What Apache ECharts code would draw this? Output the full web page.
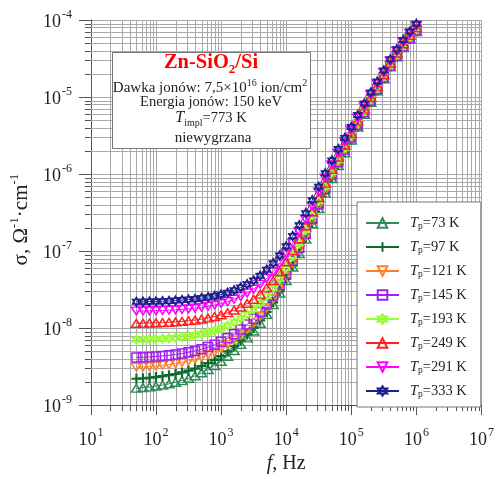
<!DOCTYPE html>
<html><head><meta charset="utf-8">
<script src="https://cdn.jsdelivr.net/npm/echarts@6/dist/echarts.min.js"></script>
<style>html,body{margin:0;padding:0;background:#fff}#c{width:497px;height:479px}</style>
</head><body><div id="c"></div>
<script>
// frequency (Hz)
const freqHz = [50,63.1,79.4,100,125.9,158.5,199.5,251.2,316.2,398.1,501.2,631,794.3,1000,
 1259,1585,1995,2512,3162,3981,5012,6310,7943,10000,
 12589,15849,19953,25119,31623,39811,50119,63096,79433,100000,
 125893,158489,199526,251189,316228,398107,501187,630957,794328,1000000];
// log10 of conductivity sigma (Ohm^-1 cm^-1)
const logSigma73 = [-8.781,-8.774,-8.765,-8.754,-8.741,-8.724,-8.704,-8.681,-8.653,-8.620,-8.582,-8.538,-8.489,-8.433,
 -8.366,-8.293,-8.213,-8.129,-8.040,-7.938,-7.823,-7.695,-7.546,-7.384,
 -7.209,-7.033,-6.845,-6.647,-6.448,-6.249,-6.060,-5.890,-5.725,-5.560,
 -5.390,-5.225,-5.070,-4.920,-4.765,-4.610,-4.480,-4.360,-4.250,-4.150];
const logSigma97 = [-8.658,-8.652,-8.645,-8.636,-8.625,-8.612,-8.596,-8.576,-8.553,-8.526,-8.493,-8.456,-8.412,-8.363,
 -8.303,-8.236,-8.162,-8.083,-7.998,-7.900,-7.790,-7.666,-7.520,-7.361,
 -7.189,-7.014,-6.828,-6.632,-6.434,-6.236,-6.048,-5.879,-5.715,-5.551,
 -5.382,-5.218,-5.063,-4.914,-4.759,-4.605,-4.475,-4.355,-4.245,-4.145];
const logSigma121 = [-8.508,-8.504,-8.498,-8.491,-8.483,-8.473,-8.460,-8.445,-8.426,-8.403,-8.377,-8.345,-8.309,-8.267,
 -8.214,-8.154,-8.088,-8.015,-7.936,-7.844,-7.738,-7.620,-7.478,-7.324,
 -7.156,-6.985,-6.802,-6.607,-6.412,-6.216,-6.029,-5.862,-5.700,-5.538,
 -5.370,-5.207,-5.053,-4.904,-4.751,-4.597,-4.467,-4.347,-4.237,-4.137];
const logSigma145 = [-8.381,-8.378,-8.374,-8.368,-8.361,-8.353,-8.343,-8.330,-8.315,-8.296,-8.274,-8.247,-8.216,-8.179,
 -8.133,-8.079,-8.019,-7.952,-7.879,-7.792,-7.691,-7.577,-7.441,-7.291,
 -7.126,-6.958,-6.778,-6.585,-6.392,-6.197,-6.012,-5.847,-5.686,-5.525,
 -5.359,-5.197,-5.044,-4.896,-4.743,-4.590,-4.460,-4.340,-4.230,-4.130];
const logSigma193 = [-8.151,-8.149,-8.146,-8.142,-8.137,-8.131,-8.124,-8.115,-8.105,-8.091,-8.075,-8.055,-8.032,-8.004,
 -7.967,-7.925,-7.874,-7.819,-7.756,-7.679,-7.588,-7.484,-7.359,-7.218,
 -7.061,-6.900,-6.726,-6.538,-6.349,-6.158,-5.977,-5.815,-5.658,-5.500,
 -5.336,-5.176,-5.024,-4.878,-4.727,-4.575,-4.445,-4.325,-4.215,-4.115];
const logSigma249 = [-7.939,-7.937,-7.935,-7.932,-7.929,-7.925,-7.920,-7.913,-7.905,-7.896,-7.884,-7.869,-7.851,-7.829,
 -7.801,-7.767,-7.727,-7.680,-7.626,-7.560,-7.479,-7.385,-7.271,-7.141,
 -6.994,-6.840,-6.672,-6.490,-6.305,-6.119,-5.941,-5.782,-5.628,-5.474,
 -5.312,-5.155,-5.005,-4.860,-4.710,-4.560,-4.430,-4.310,-4.200,-4.100];
const logSigma291 = [-7.779,-7.778,-7.776,-7.774,-7.771,-7.767,-7.763,-7.757,-7.750,-7.741,-7.730,-7.717,-7.701,-7.681,
 -7.656,-7.625,-7.588,-7.544,-7.494,-7.431,-7.354,-7.267,-7.160,-7.037,
 -6.898,-6.750,-6.589,-6.414,-6.235,-6.054,-5.882,-5.729,-5.580,-5.431,
 -5.274,-5.120,-4.972,-4.830,-4.682,-4.535,-4.405,-4.285,-4.175,-4.075];
const logSigma333 = [-7.659,-7.658,-7.656,-7.654,-7.651,-7.647,-7.643,-7.637,-7.630,-7.622,-7.611,-7.599,-7.583,-7.565,
 -7.540,-7.509,-7.473,-7.431,-7.381,-7.320,-7.243,-7.158,-7.057,-6.939,
 -6.806,-6.664,-6.508,-6.339,-6.166,-5.991,-5.824,-5.676,-5.532,-5.388,
 -5.235,-5.085,-4.940,-4.800,-4.655,-4.510,-4.380,-4.260,-4.150,-4.050];

const seriesNames = ['73 K','97 K','121 K','145 K','193 K','249 K','291 K','333 K'];
const seriesLogs = [logSigma73,logSigma97,logSigma121,logSigma145,logSigma193,logSigma249,logSigma291,logSigma333];
const xTickExps = [1,2,3,4,5,6,7];
const yTickExps = [-9,-8,-7,-6,-5,-4];

const colors = ['#2e8b57','#0b6b2b','#ff7f27','#a020f0','#99ff33','#ff2020','#ff00ff','#202090'];
const TRI_UP = 'path://M5,0 L10,8.66 L0,8.66 Z';
const TRI_DN = 'path://M0,0 L10,0 L5,8.66 Z';
const PLUS = 'path://M5,0 L5,10 M0,5 L10,5';
const SQUARE = 'path://M0,0 L10,0 L10,10 L0,10 Z';
const HEXA = 'path://M5,0 L9.33,7.5 L0.67,7.5 Z M5,10 L0.67,2.5 L9.33,2.5 Z';
const symbols = [TRI_UP, PLUS, TRI_DN, SQUARE, HEXA, TRI_UP, TRI_DN, HEXA];
const symSizes = [[10,9],[10,10],[10,9],[9,9],[9,9],[10,9],[10,9],[9,9]];
const symBorder = [1.5, 2.2, 1.5, 1.5, 1.5, 1.5, 1.5, 1.5];
const FONT = 'Liberation Serif';

const xMin = Math.pow(10, xTickExps[0]), xMax = Math.pow(10, xTickExps[xTickExps.length-1]);
const yMin = Math.pow(10, yTickExps[0]), yMax = Math.pow(10, yTickExps[yTickExps.length-1]);

// minor grid positions (2..9 per decade)
const minorX = [], minorY = [];
for (let e = xTickExps[0]; e < xTickExps[xTickExps.length-1]; e++) for (let m = 2; m <= 9; m++) minorX.push([m*Math.pow(10,e), yMin]);
for (let e = yTickExps[0]; e < yTickExps[yTickExps.length-1]; e++) for (let m = 2; m <= 9; m++) minorY.push([xMin, m*Math.pow(10,e)]);

const GRID = '#a8a8a8', AXIS = '#555';

const lineSeries = seriesNames.map((n, k) => ({
  name: n, type: 'line', z: 3,
  data: freqHz.map((f, i) => [f, Math.pow(10, seriesLogs[k][i])]),
  symbol: symbols[k], symbolSize: symSizes[k], symbolKeepAspect: true,
  showSymbol: true,
  color: colors[k],
  lineStyle: { color: colors[k], width: 1 },
  itemStyle: { color: 'rgba(255,255,255,0)', borderColor: colors[k], borderWidth: symBorder[k] },
  emphasis: { disabled: true }, animation: false
}));

const minorXSeries = {
  type: 'custom', silent: true, z: 1, clip: false, animation: false,
  data: minorX,
  renderItem: (params, api) => {
    const p = api.coord([api.value(0), api.value(1)]);
    const cs = params.coordSys; const x = Math.round(p[0]) + 0.5;
    const yb = cs.y + cs.height;
    return { type: 'group', children: [
      { type: 'line', shape: { x1: x, y1: cs.y, x2: x, y2: yb }, style: { stroke: GRID, lineWidth: 1 } },
      { type: 'line', shape: { x1: x, y1: yb, x2: x, y2: yb + 6 }, style: { stroke: AXIS, lineWidth: 1 } }
    ]};
  }
};
const minorYSeries = {
  type: 'custom', silent: true, z: 1, clip: false, animation: false,
  data: minorY,
  renderItem: (params, api) => {
    const p = api.coord([api.value(0), api.value(1)]);
    const cs = params.coordSys; const y = Math.round(p[1]) + 0.5;
    return { type: 'group', children: [
      { type: 'line', shape: { x1: cs.x, y1: y, x2: cs.x + cs.width, y2: y }, style: { stroke: GRID, lineWidth: 1 } },
      { type: 'line', shape: { x1: cs.x - 6, y1: y, x2: cs.x, y2: y }, style: { stroke: AXIS, lineWidth: 1 } }
    ]};
  }
};

const expLabel = v => '{b|10}{s|' + Math.round(Math.log10(v)) + '}';
const labelRich = {
  b: { fontFamily: FONT, fontSize: 18, color: '#222', lineHeight: 22, verticalAlign: 'bottom' },
  s: { fontFamily: FONT, fontSize: 12, color: '#222', lineHeight: 22, verticalAlign: 'top', padding: [0,0,0,1] }
};

const chart = echarts.init(document.getElementById('c'), null, { renderer: 'canvas' });
chart.setOption({
  backgroundColor: '#fff',
  animation: false,
  grid: { left: 87.5, right: 11, top: 20, bottom: 63 },
  xAxis: {
    type: 'log', logBase: 10, min: xMin, max: xMax, interval: 1,
    axisLine: { lineStyle: { color: AXIS, width: 1 } },
    axisTick: { show: true, inside: false, length: 10, lineStyle: { color: AXIS } },
    splitLine: { show: true, lineStyle: { color: GRID, width: 1 } },
    axisLabel: { margin: 22, formatter: expLabel, rich: labelRich },
    name: '{i|f}{n|, Hz}', nameLocation: 'middle', nameGap: 48,
    nameTextStyle: { rich: {
      i: { fontFamily: FONT, fontSize: 20, fontStyle: 'italic', color: '#222' },
      n: { fontFamily: FONT, fontSize: 20, color: '#222' } } }
  },
  yAxis: {
    type: 'log', logBase: 10, min: yMin, max: yMax, interval: 1,
    axisLine: { lineStyle: { color: AXIS, width: 1 } },
    axisTick: { show: true, inside: false, length: 12, lineStyle: { color: AXIS } },
    splitLine: { show: true, lineStyle: { color: GRID, width: 1 } },
    axisLabel: { margin: 19, formatter: expLabel, rich: labelRich },
    name: '{a|σ, Ω}{s|-1}{a|·cm}{s|-1}', nameLocation: 'middle', nameGap: 54,
    nameTextStyle: { padding: [0, 14, 0, 0], rich: {
      a: { fontFamily: FONT, fontSize: 21, color: '#222', lineHeight: 24, verticalAlign: 'bottom' },
      s: { fontFamily: FONT, fontSize: 13, color: '#222', lineHeight: 24, verticalAlign: 'top' } } }
  },
  legend: {
    data: seriesNames, orient: 'vertical', left: 357, top: 202,
    backgroundColor: '#fff', borderColor: '#777', borderWidth: 1,
    padding: [13, 14, 8, 8], itemWidth: 33, itemHeight: 12, itemGap: 8,
    selectedMode: false, z: 10,
    formatter: n => '{i|T}{p|p}{r|=' + n + '}',
    textStyle: { lineHeight: 16, rich: {
      i: { fontFamily: FONT, fontSize: 14.5, fontStyle: 'italic', color: '#222', padding: [0,0,0,6], lineHeight: 16 },
      p: { fontFamily: FONT, fontSize: 9.5, color: '#222', verticalAlign: 'bottom', lineHeight: 14 },
      r: { fontFamily: FONT, fontSize: 14.5, color: '#222', lineHeight: 16 } } }
  },
  graphic: [
    { type: 'rect', left: 112, top: 52, z: 50, shape: { width: 198, height: 96 },
      style: { fill: '#fff', stroke: '#777', lineWidth: 1 } },
    { type: 'text', x: 211, y: 64, z: 51, style: {
      text: '{a|Zn-SiO}{s|2}{a|/Si}', align: 'center', verticalAlign: 'middle',
      rich: { a: { fontFamily: FONT, fontSize: 20.5, fontWeight: 'bold', fill: '#ff0000', lineHeight: 24, verticalAlign: 'top' },
              s: { fontFamily: FONT, fontSize: 13, fontWeight: 'bold', fill: '#ff0000', lineHeight: 24, verticalAlign: 'bottom' } } } },
    { type: 'text', x: 210, y: 87, z: 51, style: {
      text: '{a|Dawka jonów: 7,5×10}{s|16}{a| ion/cm}{s|2}', align: 'center', verticalAlign: 'middle',
      rich: { a: { fontFamily: FONT, fontSize: 15, fill: '#222', lineHeight: 18, verticalAlign: 'bottom' },
              s: { fontFamily: FONT, fontSize: 10, fill: '#222', lineHeight: 18, verticalAlign: 'top' } } } },
    { type: 'text', x: 211, y: 102, z: 51, style: {
      text: 'Energia jonów: 150 keV', align: 'center', verticalAlign: 'middle',
      font: '14.5px "Liberation Serif"', fill: '#222' } },
    { type: 'text', x: 211, y: 119, z: 51, style: {
      text: '{i|T}{s|impl}{a|=773 K}', align: 'center', verticalAlign: 'middle',
      rich: { i: { fontFamily: FONT, fontSize: 16, fontStyle: 'italic', fill: '#222', lineHeight: 18, verticalAlign: 'top' },
              s: { fontFamily: FONT, fontSize: 10, fill: '#222', lineHeight: 18, verticalAlign: 'bottom' },
              a: { fontFamily: FONT, fontSize: 14.5, fill: '#222', lineHeight: 18, verticalAlign: 'top', padding: [1,0,0,0] } } } },
    { type: 'text', x: 213, y: 138, z: 51, style: {
      text: 'niewygrzana', align: 'center', verticalAlign: 'middle',
      font: '15px "Liberation Serif"', fill: '#222' } }
  ],
  series: [minorXSeries, minorYSeries].concat(lineSeries)
});
</script></body></html>
